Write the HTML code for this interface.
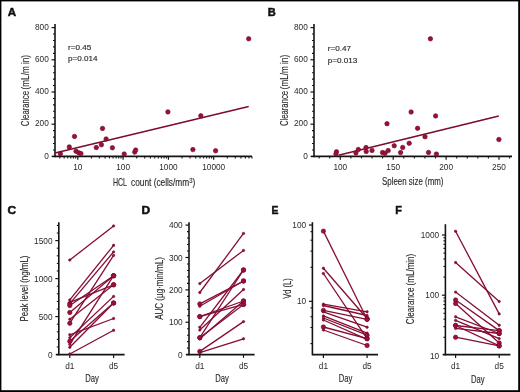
<!DOCTYPE html>
<html><head><meta charset="utf-8"><style>
html,body{margin:0;padding:0;background:#fff;}
#w{position:relative;width:520px;height:392px;overflow:hidden;background:#fff;}
svg{position:absolute;left:0;top:0;will-change:transform;font-family:"Liberation Sans",sans-serif;}
</style></head><body><div id="w">
<svg width="520" height="392" viewBox="0 0 520 392">
<rect x="0" y="0" width="520" height="392" fill="#fff"/>
<text x="7.8" y="15.9" text-anchor="start" font-size="11.2" fill="#111" font-weight="bold" textLength="8.37" lengthAdjust="spacingAndGlyphs" stroke="#111" stroke-width="0.5">A</text>
<line x1="55" y1="24" x2="55" y2="157.15" stroke="#141414" stroke-width="1.6"/>
<line x1="51.5" y1="124.2" x2="55" y2="124.2" stroke="#141414" stroke-width="1.2"/>
<line x1="51.5" y1="92.0" x2="55" y2="92.0" stroke="#141414" stroke-width="1.2"/>
<line x1="51.5" y1="59.8" x2="55" y2="59.8" stroke="#141414" stroke-width="1.2"/>
<line x1="51.5" y1="27.6" x2="55" y2="27.6" stroke="#141414" stroke-width="1.2"/>
<line x1="53" y1="149.96" x2="55" y2="149.96" stroke="#141414" stroke-width="1.1"/>
<line x1="53" y1="143.52" x2="55" y2="143.52" stroke="#141414" stroke-width="1.1"/>
<line x1="53" y1="137.08" x2="55" y2="137.08" stroke="#141414" stroke-width="1.1"/>
<line x1="53" y1="130.64" x2="55" y2="130.64" stroke="#141414" stroke-width="1.1"/>
<line x1="53" y1="117.76" x2="55" y2="117.76" stroke="#141414" stroke-width="1.1"/>
<line x1="53" y1="111.32" x2="55" y2="111.32" stroke="#141414" stroke-width="1.1"/>
<line x1="53" y1="104.88" x2="55" y2="104.88" stroke="#141414" stroke-width="1.1"/>
<line x1="53" y1="98.44" x2="55" y2="98.44" stroke="#141414" stroke-width="1.1"/>
<line x1="53" y1="85.56" x2="55" y2="85.56" stroke="#141414" stroke-width="1.1"/>
<line x1="53" y1="79.12" x2="55" y2="79.12" stroke="#141414" stroke-width="1.1"/>
<line x1="53" y1="72.68" x2="55" y2="72.68" stroke="#141414" stroke-width="1.1"/>
<line x1="53" y1="66.24" x2="55" y2="66.24" stroke="#141414" stroke-width="1.1"/>
<line x1="53" y1="53.36" x2="55" y2="53.36" stroke="#141414" stroke-width="1.1"/>
<line x1="53" y1="46.92" x2="55" y2="46.92" stroke="#141414" stroke-width="1.1"/>
<line x1="53" y1="40.48" x2="55" y2="40.48" stroke="#141414" stroke-width="1.1"/>
<line x1="53" y1="34.04" x2="55" y2="34.04" stroke="#141414" stroke-width="1.1"/>
<text x="48.8" y="158.5" text-anchor="end" font-size="9.9" fill="#2a2a2a" font-weight="normal" textLength="4.6" lengthAdjust="spacingAndGlyphs">0</text>
<text x="48.8" y="126.3" text-anchor="end" font-size="9.9" fill="#2a2a2a" font-weight="normal" textLength="13.79" lengthAdjust="spacingAndGlyphs">200</text>
<text x="48.8" y="94.1" text-anchor="end" font-size="9.9" fill="#2a2a2a" font-weight="normal" textLength="13.79" lengthAdjust="spacingAndGlyphs">400</text>
<text x="48.8" y="61.9" text-anchor="end" font-size="9.9" fill="#2a2a2a" font-weight="normal" textLength="13.79" lengthAdjust="spacingAndGlyphs">600</text>
<text x="48.8" y="29.7" text-anchor="end" font-size="9.9" fill="#2a2a2a" font-weight="normal" textLength="13.79" lengthAdjust="spacingAndGlyphs">800</text>
<line x1="51.7" y1="156.4" x2="55" y2="156.4" stroke="#141414" stroke-width="1.6"/>
<line x1="55" y1="156.4" x2="252" y2="156.4" stroke="#141414" stroke-width="1.6"/>
<line x1="77.8" y1="156.4" x2="77.8" y2="159.7" stroke="#141414" stroke-width="1.2"/>
<line x1="123.1" y1="156.4" x2="123.1" y2="159.7" stroke="#141414" stroke-width="1.2"/>
<line x1="168.4" y1="156.4" x2="168.4" y2="159.7" stroke="#141414" stroke-width="1.2"/>
<line x1="213.7" y1="156.4" x2="213.7" y2="159.7" stroke="#141414" stroke-width="1.2"/>
<line x1="59.77" y1="156.4" x2="59.77" y2="158.4" stroke="#141414" stroke-width="1.1"/>
<line x1="64.16" y1="156.4" x2="64.16" y2="158.4" stroke="#141414" stroke-width="1.1"/>
<line x1="67.75" y1="156.4" x2="67.75" y2="158.4" stroke="#141414" stroke-width="1.1"/>
<line x1="70.78" y1="156.4" x2="70.78" y2="158.4" stroke="#141414" stroke-width="1.1"/>
<line x1="73.41" y1="156.4" x2="73.41" y2="158.4" stroke="#141414" stroke-width="1.1"/>
<line x1="75.73" y1="156.4" x2="75.73" y2="158.4" stroke="#141414" stroke-width="1.1"/>
<line x1="91.44" y1="156.4" x2="91.44" y2="158.4" stroke="#141414" stroke-width="1.1"/>
<line x1="99.41" y1="156.4" x2="99.41" y2="158.4" stroke="#141414" stroke-width="1.1"/>
<line x1="105.07" y1="156.4" x2="105.07" y2="158.4" stroke="#141414" stroke-width="1.1"/>
<line x1="109.46" y1="156.4" x2="109.46" y2="158.4" stroke="#141414" stroke-width="1.1"/>
<line x1="113.05" y1="156.4" x2="113.05" y2="158.4" stroke="#141414" stroke-width="1.1"/>
<line x1="116.08" y1="156.4" x2="116.08" y2="158.4" stroke="#141414" stroke-width="1.1"/>
<line x1="118.71" y1="156.4" x2="118.71" y2="158.4" stroke="#141414" stroke-width="1.1"/>
<line x1="121.03" y1="156.4" x2="121.03" y2="158.4" stroke="#141414" stroke-width="1.1"/>
<line x1="136.74" y1="156.4" x2="136.74" y2="158.4" stroke="#141414" stroke-width="1.1"/>
<line x1="144.71" y1="156.4" x2="144.71" y2="158.4" stroke="#141414" stroke-width="1.1"/>
<line x1="150.37" y1="156.4" x2="150.37" y2="158.4" stroke="#141414" stroke-width="1.1"/>
<line x1="154.76" y1="156.4" x2="154.76" y2="158.4" stroke="#141414" stroke-width="1.1"/>
<line x1="158.35" y1="156.4" x2="158.35" y2="158.4" stroke="#141414" stroke-width="1.1"/>
<line x1="161.38" y1="156.4" x2="161.38" y2="158.4" stroke="#141414" stroke-width="1.1"/>
<line x1="164.01" y1="156.4" x2="164.01" y2="158.4" stroke="#141414" stroke-width="1.1"/>
<line x1="166.33" y1="156.4" x2="166.33" y2="158.4" stroke="#141414" stroke-width="1.1"/>
<line x1="182.04" y1="156.4" x2="182.04" y2="158.4" stroke="#141414" stroke-width="1.1"/>
<line x1="190.01" y1="156.4" x2="190.01" y2="158.4" stroke="#141414" stroke-width="1.1"/>
<line x1="195.67" y1="156.4" x2="195.67" y2="158.4" stroke="#141414" stroke-width="1.1"/>
<line x1="200.06" y1="156.4" x2="200.06" y2="158.4" stroke="#141414" stroke-width="1.1"/>
<line x1="203.65" y1="156.4" x2="203.65" y2="158.4" stroke="#141414" stroke-width="1.1"/>
<line x1="206.68" y1="156.4" x2="206.68" y2="158.4" stroke="#141414" stroke-width="1.1"/>
<line x1="209.31" y1="156.4" x2="209.31" y2="158.4" stroke="#141414" stroke-width="1.1"/>
<line x1="211.63" y1="156.4" x2="211.63" y2="158.4" stroke="#141414" stroke-width="1.1"/>
<line x1="227.34" y1="156.4" x2="227.34" y2="158.4" stroke="#141414" stroke-width="1.1"/>
<line x1="235.31" y1="156.4" x2="235.31" y2="158.4" stroke="#141414" stroke-width="1.1"/>
<line x1="240.97" y1="156.4" x2="240.97" y2="158.4" stroke="#141414" stroke-width="1.1"/>
<line x1="245.36" y1="156.4" x2="245.36" y2="158.4" stroke="#141414" stroke-width="1.1"/>
<line x1="248.95" y1="156.4" x2="248.95" y2="158.4" stroke="#141414" stroke-width="1.1"/>
<line x1="251.98" y1="156.4" x2="251.98" y2="158.4" stroke="#141414" stroke-width="1.1"/>
<text x="77.8" y="169.6" text-anchor="middle" font-size="9.5" fill="#2a2a2a" font-weight="normal" textLength="9.19" lengthAdjust="spacingAndGlyphs">10</text>
<text x="123.1" y="169.6" text-anchor="middle" font-size="9.5" fill="#2a2a2a" font-weight="normal" textLength="13.79" lengthAdjust="spacingAndGlyphs">100</text>
<text x="168.4" y="169.6" text-anchor="middle" font-size="9.5" fill="#2a2a2a" font-weight="normal" textLength="18.38" lengthAdjust="spacingAndGlyphs">1000</text>
<text x="213.7" y="169.6" text-anchor="middle" font-size="9.5" fill="#2a2a2a" font-weight="normal" textLength="22.98" lengthAdjust="spacingAndGlyphs">10000</text>
<text x="112.9" y="186.3" text-anchor="start" font-size="10.4" fill="#2a2a2a" font-weight="normal" textLength="14.0" lengthAdjust="spacingAndGlyphs" stroke="#2a2a2a" stroke-width="0.14">HCL</text>
<text x="131.0" y="186.3" text-anchor="start" font-size="10.4" fill="#2a2a2a" font-weight="normal" stroke="#2a2a2a" stroke-width="0.14" transform="translate(131,0) scale(0.80,1) translate(-131,0)">count (cells/mm<tspan font-size="7.4" dy="-3.2">3</tspan><tspan dy="3.2">)</tspan></text>
<text transform="translate(28.9,126.2) rotate(-90)" text-anchor="start" font-size="10" fill="#2a2a2a" font-weight="normal" textLength="35.2" lengthAdjust="spacingAndGlyphs" stroke="#2a2a2a" stroke-width="0.14">Clearance</text>
<text transform="translate(28.9,89.4) rotate(-90)" text-anchor="start" font-size="10" fill="#2a2a2a" font-weight="normal" textLength="34.4" lengthAdjust="spacingAndGlyphs" stroke="#2a2a2a" stroke-width="0.14">(mL/m in)</text>
<text x="68" y="49.8" text-anchor="start" font-size="7.8" fill="#2a2a2a" font-weight="normal" textLength="23.23" lengthAdjust="spacingAndGlyphs" stroke="#2a2a2a" stroke-width="0.15">r=0.45</text>
<text x="68" y="61.1" text-anchor="start" font-size="7.8" fill="#2a2a2a" font-weight="normal" textLength="29.55" lengthAdjust="spacingAndGlyphs" stroke="#2a2a2a" stroke-width="0.15">p=0.014</text>
<line x1="55" y1="153.0" x2="248.7" y2="106.5" stroke="#7c0b2e" stroke-width="1.55"/>
<circle cx="60.4" cy="153.7" r="2.25" fill="#9a1039" stroke="#730927" stroke-width="0.6"/>
<circle cx="69.3" cy="146.9" r="2.25" fill="#9a1039" stroke="#730927" stroke-width="0.6"/>
<circle cx="74.5" cy="136.4" r="2.25" fill="#9a1039" stroke="#730927" stroke-width="0.6"/>
<circle cx="76" cy="151.3" r="2.25" fill="#9a1039" stroke="#730927" stroke-width="0.6"/>
<circle cx="78.7" cy="152.7" r="2.25" fill="#9a1039" stroke="#730927" stroke-width="0.6"/>
<circle cx="80.9" cy="153.6" r="2.25" fill="#9a1039" stroke="#730927" stroke-width="0.6"/>
<circle cx="96.3" cy="147.6" r="2.25" fill="#9a1039" stroke="#730927" stroke-width="0.6"/>
<circle cx="101.4" cy="144.8" r="2.25" fill="#9a1039" stroke="#730927" stroke-width="0.6"/>
<circle cx="102.5" cy="128.4" r="2.25" fill="#9a1039" stroke="#730927" stroke-width="0.6"/>
<circle cx="106.1" cy="139" r="2.25" fill="#9a1039" stroke="#730927" stroke-width="0.6"/>
<circle cx="112.4" cy="147.8" r="2.25" fill="#9a1039" stroke="#730927" stroke-width="0.6"/>
<circle cx="124.2" cy="154" r="2.25" fill="#9a1039" stroke="#730927" stroke-width="0.6"/>
<circle cx="134.7" cy="152.1" r="2.25" fill="#9a1039" stroke="#730927" stroke-width="0.6"/>
<circle cx="135.7" cy="150.1" r="2.25" fill="#9a1039" stroke="#730927" stroke-width="0.6"/>
<circle cx="167.9" cy="111.9" r="2.25" fill="#9a1039" stroke="#730927" stroke-width="0.6"/>
<circle cx="192.9" cy="149.6" r="2.25" fill="#9a1039" stroke="#730927" stroke-width="0.6"/>
<circle cx="200.8" cy="115.8" r="2.25" fill="#9a1039" stroke="#730927" stroke-width="0.6"/>
<circle cx="215.6" cy="150.8" r="2.25" fill="#9a1039" stroke="#730927" stroke-width="0.6"/>
<circle cx="248.7" cy="38.8" r="2.25" fill="#9a1039" stroke="#730927" stroke-width="0.6"/>
<text x="267.8" y="16.0" text-anchor="start" font-size="11.2" fill="#111" font-weight="bold" textLength="7.99" lengthAdjust="spacingAndGlyphs" stroke="#111" stroke-width="0.5">B</text>
<line x1="314" y1="24" x2="314" y2="157.15" stroke="#141414" stroke-width="1.6"/>
<line x1="310.5" y1="124.2" x2="314" y2="124.2" stroke="#141414" stroke-width="1.2"/>
<line x1="310.5" y1="92.0" x2="314" y2="92.0" stroke="#141414" stroke-width="1.2"/>
<line x1="310.5" y1="59.8" x2="314" y2="59.8" stroke="#141414" stroke-width="1.2"/>
<line x1="310.5" y1="27.6" x2="314" y2="27.6" stroke="#141414" stroke-width="1.2"/>
<line x1="312" y1="149.96" x2="314" y2="149.96" stroke="#141414" stroke-width="1.1"/>
<line x1="312" y1="143.52" x2="314" y2="143.52" stroke="#141414" stroke-width="1.1"/>
<line x1="312" y1="137.08" x2="314" y2="137.08" stroke="#141414" stroke-width="1.1"/>
<line x1="312" y1="130.64" x2="314" y2="130.64" stroke="#141414" stroke-width="1.1"/>
<line x1="312" y1="117.76" x2="314" y2="117.76" stroke="#141414" stroke-width="1.1"/>
<line x1="312" y1="111.32" x2="314" y2="111.32" stroke="#141414" stroke-width="1.1"/>
<line x1="312" y1="104.88" x2="314" y2="104.88" stroke="#141414" stroke-width="1.1"/>
<line x1="312" y1="98.44" x2="314" y2="98.44" stroke="#141414" stroke-width="1.1"/>
<line x1="312" y1="85.56" x2="314" y2="85.56" stroke="#141414" stroke-width="1.1"/>
<line x1="312" y1="79.12" x2="314" y2="79.12" stroke="#141414" stroke-width="1.1"/>
<line x1="312" y1="72.68" x2="314" y2="72.68" stroke="#141414" stroke-width="1.1"/>
<line x1="312" y1="66.24" x2="314" y2="66.24" stroke="#141414" stroke-width="1.1"/>
<line x1="312" y1="53.36" x2="314" y2="53.36" stroke="#141414" stroke-width="1.1"/>
<line x1="312" y1="46.92" x2="314" y2="46.92" stroke="#141414" stroke-width="1.1"/>
<line x1="312" y1="40.48" x2="314" y2="40.48" stroke="#141414" stroke-width="1.1"/>
<line x1="312" y1="34.04" x2="314" y2="34.04" stroke="#141414" stroke-width="1.1"/>
<text x="307.8" y="158.5" text-anchor="end" font-size="9.9" fill="#2a2a2a" font-weight="normal" textLength="4.6" lengthAdjust="spacingAndGlyphs">0</text>
<text x="307.8" y="126.3" text-anchor="end" font-size="9.9" fill="#2a2a2a" font-weight="normal" textLength="13.79" lengthAdjust="spacingAndGlyphs">200</text>
<text x="307.8" y="94.1" text-anchor="end" font-size="9.9" fill="#2a2a2a" font-weight="normal" textLength="13.79" lengthAdjust="spacingAndGlyphs">400</text>
<text x="307.8" y="61.9" text-anchor="end" font-size="9.9" fill="#2a2a2a" font-weight="normal" textLength="13.79" lengthAdjust="spacingAndGlyphs">600</text>
<text x="307.8" y="29.7" text-anchor="end" font-size="9.9" fill="#2a2a2a" font-weight="normal" textLength="13.79" lengthAdjust="spacingAndGlyphs">800</text>
<line x1="310.7" y1="156.4" x2="314" y2="156.4" stroke="#141414" stroke-width="1.6"/>
<line x1="314" y1="156.4" x2="512" y2="156.4" stroke="#141414" stroke-width="1.6"/>
<line x1="340.3" y1="156.4" x2="340.3" y2="159.7" stroke="#141414" stroke-width="1.2"/>
<line x1="393.2" y1="156.4" x2="393.2" y2="159.7" stroke="#141414" stroke-width="1.2"/>
<line x1="446.1" y1="156.4" x2="446.1" y2="159.7" stroke="#141414" stroke-width="1.2"/>
<line x1="499.0" y1="156.4" x2="499.0" y2="159.7" stroke="#141414" stroke-width="1.2"/>
<line x1="319.14" y1="156.4" x2="319.14" y2="158.4" stroke="#141414" stroke-width="1.1"/>
<line x1="329.72" y1="156.4" x2="329.72" y2="158.4" stroke="#141414" stroke-width="1.1"/>
<line x1="350.88" y1="156.4" x2="350.88" y2="158.4" stroke="#141414" stroke-width="1.1"/>
<line x1="361.46" y1="156.4" x2="361.46" y2="158.4" stroke="#141414" stroke-width="1.1"/>
<line x1="372.04" y1="156.4" x2="372.04" y2="158.4" stroke="#141414" stroke-width="1.1"/>
<line x1="382.62" y1="156.4" x2="382.62" y2="158.4" stroke="#141414" stroke-width="1.1"/>
<line x1="403.78" y1="156.4" x2="403.78" y2="158.4" stroke="#141414" stroke-width="1.1"/>
<line x1="414.36" y1="156.4" x2="414.36" y2="158.4" stroke="#141414" stroke-width="1.1"/>
<line x1="424.94" y1="156.4" x2="424.94" y2="158.4" stroke="#141414" stroke-width="1.1"/>
<line x1="435.52" y1="156.4" x2="435.52" y2="158.4" stroke="#141414" stroke-width="1.1"/>
<line x1="456.68" y1="156.4" x2="456.68" y2="158.4" stroke="#141414" stroke-width="1.1"/>
<line x1="467.26" y1="156.4" x2="467.26" y2="158.4" stroke="#141414" stroke-width="1.1"/>
<line x1="477.84" y1="156.4" x2="477.84" y2="158.4" stroke="#141414" stroke-width="1.1"/>
<line x1="488.42" y1="156.4" x2="488.42" y2="158.4" stroke="#141414" stroke-width="1.1"/>
<line x1="509.58" y1="156.4" x2="509.58" y2="158.4" stroke="#141414" stroke-width="1.1"/>
<text x="340.3" y="169.6" text-anchor="middle" font-size="9.5" fill="#2a2a2a" font-weight="normal" textLength="13.79" lengthAdjust="spacingAndGlyphs">100</text>
<text x="393.2" y="169.6" text-anchor="middle" font-size="9.5" fill="#2a2a2a" font-weight="normal" textLength="13.79" lengthAdjust="spacingAndGlyphs">150</text>
<text x="446.1" y="169.6" text-anchor="middle" font-size="9.5" fill="#2a2a2a" font-weight="normal" textLength="13.79" lengthAdjust="spacingAndGlyphs">200</text>
<text x="499.0" y="169.6" text-anchor="middle" font-size="9.5" fill="#2a2a2a" font-weight="normal" textLength="13.79" lengthAdjust="spacingAndGlyphs">250</text>
<text x="382" y="184.7" text-anchor="start" font-size="10" fill="#2a2a2a" font-weight="normal" textLength="61.5" lengthAdjust="spacingAndGlyphs" stroke="#2a2a2a" stroke-width="0.14">Spleen size (mm)</text>
<text transform="translate(288.3,126.1) rotate(-90)" text-anchor="start" font-size="10" fill="#2a2a2a" font-weight="normal" textLength="35.2" lengthAdjust="spacingAndGlyphs" stroke="#2a2a2a" stroke-width="0.14">Clearance</text>
<text transform="translate(288.3,89.3) rotate(-90)" text-anchor="start" font-size="10" fill="#2a2a2a" font-weight="normal" textLength="34.4" lengthAdjust="spacingAndGlyphs" stroke="#2a2a2a" stroke-width="0.14">(mL/m in)</text>
<text x="327.7" y="51.1" text-anchor="start" font-size="7.8" fill="#2a2a2a" font-weight="normal" textLength="23.23" lengthAdjust="spacingAndGlyphs" stroke="#2a2a2a" stroke-width="0.15">r=0.47</text>
<text x="327.7" y="62.9" text-anchor="start" font-size="7.8" fill="#2a2a2a" font-weight="normal" textLength="29.55" lengthAdjust="spacingAndGlyphs" stroke="#2a2a2a" stroke-width="0.15">p=0.013</text>
<line x1="338.5" y1="155.2" x2="498.8" y2="116" stroke="#7c0b2e" stroke-width="1.55"/>
<circle cx="336.5" cy="151.8" r="2.25" fill="#9a1039" stroke="#730927" stroke-width="0.6"/>
<circle cx="335.9" cy="153.9" r="2.25" fill="#9a1039" stroke="#730927" stroke-width="0.6"/>
<circle cx="355.9" cy="152.9" r="2.25" fill="#9a1039" stroke="#730927" stroke-width="0.6"/>
<circle cx="358.3" cy="149.5" r="2.25" fill="#9a1039" stroke="#730927" stroke-width="0.6"/>
<circle cx="366" cy="147.6" r="2.25" fill="#9a1039" stroke="#730927" stroke-width="0.6"/>
<circle cx="366.2" cy="151.5" r="2.25" fill="#9a1039" stroke="#730927" stroke-width="0.6"/>
<circle cx="372" cy="150.4" r="2.25" fill="#9a1039" stroke="#730927" stroke-width="0.6"/>
<circle cx="382.5" cy="152.6" r="2.25" fill="#9a1039" stroke="#730927" stroke-width="0.6"/>
<circle cx="385" cy="153.2" r="2.25" fill="#9a1039" stroke="#730927" stroke-width="0.6"/>
<circle cx="388.2" cy="150.6" r="2.25" fill="#9a1039" stroke="#730927" stroke-width="0.6"/>
<circle cx="394.2" cy="145.8" r="2.25" fill="#9a1039" stroke="#730927" stroke-width="0.6"/>
<circle cx="400.6" cy="152.6" r="2.25" fill="#9a1039" stroke="#730927" stroke-width="0.6"/>
<circle cx="402.7" cy="147.4" r="2.25" fill="#9a1039" stroke="#730927" stroke-width="0.6"/>
<circle cx="409.2" cy="143.3" r="2.25" fill="#9a1039" stroke="#730927" stroke-width="0.6"/>
<circle cx="387" cy="123.7" r="2.25" fill="#9a1039" stroke="#730927" stroke-width="0.6"/>
<circle cx="411.1" cy="112" r="2.25" fill="#9a1039" stroke="#730927" stroke-width="0.6"/>
<circle cx="417.6" cy="128.3" r="2.25" fill="#9a1039" stroke="#730927" stroke-width="0.6"/>
<circle cx="425" cy="136.8" r="2.25" fill="#9a1039" stroke="#730927" stroke-width="0.6"/>
<circle cx="428.5" cy="152.4" r="2.25" fill="#9a1039" stroke="#730927" stroke-width="0.6"/>
<circle cx="435.6" cy="115.9" r="2.25" fill="#9a1039" stroke="#730927" stroke-width="0.6"/>
<circle cx="436.4" cy="154.1" r="2.25" fill="#9a1039" stroke="#730927" stroke-width="0.6"/>
<circle cx="430.4" cy="38.8" r="2.25" fill="#9a1039" stroke="#730927" stroke-width="0.6"/>
<circle cx="498.9" cy="139.5" r="2.25" fill="#9a1039" stroke="#730927" stroke-width="0.6"/>
<text x="7.6" y="214.3" text-anchor="start" font-size="11.2" fill="#111" font-weight="bold" textLength="8.65" lengthAdjust="spacingAndGlyphs" stroke="#111" stroke-width="0.5">C</text>
<line x1="58.8" y1="222.2" x2="58.8" y2="355.35" stroke="#141414" stroke-width="1.6"/>
<line x1="55.3" y1="316.6" x2="58.8" y2="316.6" stroke="#141414" stroke-width="1.2"/>
<line x1="55.3" y1="278.6" x2="58.8" y2="278.6" stroke="#141414" stroke-width="1.2"/>
<line x1="55.3" y1="240.6" x2="58.8" y2="240.6" stroke="#141414" stroke-width="1.2"/>
<line x1="56.8" y1="347.0" x2="58.8" y2="347.0" stroke="#141414" stroke-width="1.1"/>
<line x1="56.8" y1="339.4" x2="58.8" y2="339.4" stroke="#141414" stroke-width="1.1"/>
<line x1="56.8" y1="331.8" x2="58.8" y2="331.8" stroke="#141414" stroke-width="1.1"/>
<line x1="56.8" y1="324.2" x2="58.8" y2="324.2" stroke="#141414" stroke-width="1.1"/>
<line x1="56.8" y1="309.0" x2="58.8" y2="309.0" stroke="#141414" stroke-width="1.1"/>
<line x1="56.8" y1="301.4" x2="58.8" y2="301.4" stroke="#141414" stroke-width="1.1"/>
<line x1="56.8" y1="293.8" x2="58.8" y2="293.8" stroke="#141414" stroke-width="1.1"/>
<line x1="56.8" y1="286.2" x2="58.8" y2="286.2" stroke="#141414" stroke-width="1.1"/>
<line x1="56.8" y1="271.0" x2="58.8" y2="271.0" stroke="#141414" stroke-width="1.1"/>
<line x1="56.8" y1="263.4" x2="58.8" y2="263.4" stroke="#141414" stroke-width="1.1"/>
<line x1="56.8" y1="255.8" x2="58.8" y2="255.8" stroke="#141414" stroke-width="1.1"/>
<line x1="56.8" y1="248.2" x2="58.8" y2="248.2" stroke="#141414" stroke-width="1.1"/>
<line x1="56.8" y1="233.0" x2="58.8" y2="233.0" stroke="#141414" stroke-width="1.1"/>
<line x1="56.8" y1="225.4" x2="58.8" y2="225.4" stroke="#141414" stroke-width="1.1"/>
<text x="52.5" y="357.7" text-anchor="end" font-size="9.9" fill="#2a2a2a" font-weight="normal" textLength="4.6" lengthAdjust="spacingAndGlyphs">0</text>
<text x="52.5" y="319.7" text-anchor="end" font-size="9.9" fill="#2a2a2a" font-weight="normal" textLength="13.79" lengthAdjust="spacingAndGlyphs">500</text>
<text x="52.5" y="281.7" text-anchor="end" font-size="9.9" fill="#2a2a2a" font-weight="normal" textLength="18.39" lengthAdjust="spacingAndGlyphs">1000</text>
<text x="52.5" y="243.7" text-anchor="end" font-size="9.9" fill="#2a2a2a" font-weight="normal" textLength="18.39" lengthAdjust="spacingAndGlyphs">1500</text>
<line x1="55.8" y1="354.6" x2="124.6" y2="354.6" stroke="#141414" stroke-width="1.6"/>
<line x1="69.8" y1="354.6" x2="69.8" y2="357.9" stroke="#141414" stroke-width="1.2"/>
<line x1="113.6" y1="354.6" x2="113.6" y2="357.9" stroke="#141414" stroke-width="1.2"/>
<text x="69.8" y="368.9" text-anchor="middle" font-size="9.5" fill="#2a2a2a" font-weight="normal" textLength="9.19" lengthAdjust="spacingAndGlyphs">d1</text>
<text x="113.6" y="368.9" text-anchor="middle" font-size="9.5" fill="#2a2a2a" font-weight="normal" textLength="9.19" lengthAdjust="spacingAndGlyphs">d5</text>
<text x="92.1" y="381.9" text-anchor="middle" font-size="10" fill="#2a2a2a" font-weight="normal" textLength="13.6" lengthAdjust="spacingAndGlyphs" stroke="#2a2a2a" stroke-width="0.14">Day</text>
<text transform="translate(28,288.5) rotate(-90)" text-anchor="middle" font-size="10" fill="#2a2a2a" font-weight="normal" textLength="66" lengthAdjust="spacingAndGlyphs" stroke="#2a2a2a" stroke-width="0.14">Peak level (ng/mL)</text>
<line x1="69.8" y1="260.0" x2="113.6" y2="225.9" stroke="#850d33" stroke-width="1.3"/>
<line x1="69.8" y1="299.9" x2="113.6" y2="245.3" stroke="#850d33" stroke-width="1.3"/>
<line x1="69.8" y1="303.7" x2="113.6" y2="251.9" stroke="#850d33" stroke-width="1.3"/>
<line x1="69.8" y1="323.2" x2="113.6" y2="255.4" stroke="#850d33" stroke-width="1.3"/>
<line x1="69.8" y1="305.5" x2="113.6" y2="275.7" stroke="#850d33" stroke-width="1.3"/>
<line x1="69.8" y1="312.5" x2="113.6" y2="275.7" stroke="#850d33" stroke-width="1.3"/>
<line x1="69.8" y1="344.4" x2="113.6" y2="275.7" stroke="#850d33" stroke-width="1.3"/>
<line x1="69.8" y1="319.2" x2="113.6" y2="284.8" stroke="#850d33" stroke-width="1.3"/>
<line x1="69.8" y1="302.4" x2="113.6" y2="284.8" stroke="#850d33" stroke-width="1.3"/>
<line x1="69.8" y1="337.7" x2="113.6" y2="296.4" stroke="#850d33" stroke-width="1.3"/>
<line x1="69.8" y1="341.3" x2="113.6" y2="303" stroke="#850d33" stroke-width="1.3"/>
<line x1="69.8" y1="334.8" x2="113.6" y2="318.5" stroke="#850d33" stroke-width="1.3"/>
<line x1="69.8" y1="354" x2="113.6" y2="330.3" stroke="#850d33" stroke-width="1.3"/>
<line x1="69.8" y1="347.3" x2="113.6" y2="303" stroke="#850d33" stroke-width="1.3"/>
<circle cx="69.8" cy="260.0" r="1.2" fill="#9a1039" stroke="#730927" stroke-width="0.6"/>
<circle cx="113.6" cy="225.9" r="1.2" fill="#9a1039" stroke="#730927" stroke-width="0.6"/>
<circle cx="69.8" cy="299.9" r="1.2" fill="#9a1039" stroke="#730927" stroke-width="0.6"/>
<circle cx="113.6" cy="245.3" r="1.2" fill="#9a1039" stroke="#730927" stroke-width="0.6"/>
<circle cx="69.8" cy="303.7" r="2.2" fill="#9a1039" stroke="#730927" stroke-width="0.6"/>
<circle cx="113.6" cy="251.9" r="1.2" fill="#9a1039" stroke="#730927" stroke-width="0.6"/>
<circle cx="69.8" cy="323.2" r="2.2" fill="#9a1039" stroke="#730927" stroke-width="0.6"/>
<circle cx="113.6" cy="255.4" r="1.2" fill="#9a1039" stroke="#730927" stroke-width="0.6"/>
<circle cx="69.8" cy="305.5" r="2.2" fill="#9a1039" stroke="#730927" stroke-width="0.6"/>
<circle cx="113.6" cy="275.7" r="2.2" fill="#9a1039" stroke="#730927" stroke-width="0.6"/>
<circle cx="69.8" cy="312.5" r="2.2" fill="#9a1039" stroke="#730927" stroke-width="0.6"/>
<circle cx="113.6" cy="275.7" r="2.2" fill="#9a1039" stroke="#730927" stroke-width="0.6"/>
<circle cx="69.8" cy="344.4" r="1.2" fill="#9a1039" stroke="#730927" stroke-width="0.6"/>
<circle cx="113.6" cy="275.7" r="2.2" fill="#9a1039" stroke="#730927" stroke-width="0.6"/>
<circle cx="69.8" cy="319.2" r="1.2" fill="#9a1039" stroke="#730927" stroke-width="0.6"/>
<circle cx="113.6" cy="284.8" r="2.2" fill="#9a1039" stroke="#730927" stroke-width="0.6"/>
<circle cx="69.8" cy="302.4" r="1.2" fill="#9a1039" stroke="#730927" stroke-width="0.6"/>
<circle cx="113.6" cy="284.8" r="2.2" fill="#9a1039" stroke="#730927" stroke-width="0.6"/>
<circle cx="69.8" cy="337.7" r="1.2" fill="#9a1039" stroke="#730927" stroke-width="0.6"/>
<circle cx="113.6" cy="296.4" r="1.2" fill="#9a1039" stroke="#730927" stroke-width="0.6"/>
<circle cx="69.8" cy="341.3" r="2.2" fill="#9a1039" stroke="#730927" stroke-width="0.6"/>
<circle cx="113.6" cy="303" r="2.2" fill="#9a1039" stroke="#730927" stroke-width="0.6"/>
<circle cx="69.8" cy="334.8" r="1.2" fill="#9a1039" stroke="#730927" stroke-width="0.6"/>
<circle cx="113.6" cy="318.5" r="1.2" fill="#9a1039" stroke="#730927" stroke-width="0.6"/>
<circle cx="69.8" cy="354" r="1.2" fill="#9a1039" stroke="#730927" stroke-width="0.6"/>
<circle cx="113.6" cy="330.3" r="1.2" fill="#9a1039" stroke="#730927" stroke-width="0.6"/>
<circle cx="69.8" cy="347.3" r="1.2" fill="#9a1039" stroke="#730927" stroke-width="0.6"/>
<circle cx="113.6" cy="303" r="2.2" fill="#9a1039" stroke="#730927" stroke-width="0.6"/>
<text x="141.4" y="214.3" text-anchor="start" font-size="11.2" fill="#111" font-weight="bold" textLength="8.65" lengthAdjust="spacingAndGlyphs" stroke="#111" stroke-width="0.5">D</text>
<line x1="189" y1="222.2" x2="189" y2="355.35" stroke="#141414" stroke-width="1.6"/>
<line x1="185.5" y1="322.23" x2="189" y2="322.23" stroke="#141414" stroke-width="1.2"/>
<line x1="185.5" y1="289.86" x2="189" y2="289.86" stroke="#141414" stroke-width="1.2"/>
<line x1="185.5" y1="257.49" x2="189" y2="257.49" stroke="#141414" stroke-width="1.2"/>
<line x1="185.5" y1="225.12" x2="189" y2="225.12" stroke="#141414" stroke-width="1.2"/>
<line x1="187" y1="348.13" x2="189" y2="348.13" stroke="#141414" stroke-width="1.1"/>
<line x1="187" y1="341.65" x2="189" y2="341.65" stroke="#141414" stroke-width="1.1"/>
<line x1="187" y1="335.18" x2="189" y2="335.18" stroke="#141414" stroke-width="1.1"/>
<line x1="187" y1="328.7" x2="189" y2="328.7" stroke="#141414" stroke-width="1.1"/>
<line x1="187" y1="315.76" x2="189" y2="315.76" stroke="#141414" stroke-width="1.1"/>
<line x1="187" y1="309.28" x2="189" y2="309.28" stroke="#141414" stroke-width="1.1"/>
<line x1="187" y1="302.81" x2="189" y2="302.81" stroke="#141414" stroke-width="1.1"/>
<line x1="187" y1="296.33" x2="189" y2="296.33" stroke="#141414" stroke-width="1.1"/>
<line x1="187" y1="283.39" x2="189" y2="283.39" stroke="#141414" stroke-width="1.1"/>
<line x1="187" y1="276.91" x2="189" y2="276.91" stroke="#141414" stroke-width="1.1"/>
<line x1="187" y1="270.44" x2="189" y2="270.44" stroke="#141414" stroke-width="1.1"/>
<line x1="187" y1="263.96" x2="189" y2="263.96" stroke="#141414" stroke-width="1.1"/>
<line x1="187" y1="251.02" x2="189" y2="251.02" stroke="#141414" stroke-width="1.1"/>
<line x1="187" y1="244.54" x2="189" y2="244.54" stroke="#141414" stroke-width="1.1"/>
<line x1="187" y1="238.07" x2="189" y2="238.07" stroke="#141414" stroke-width="1.1"/>
<line x1="187" y1="231.59" x2="189" y2="231.59" stroke="#141414" stroke-width="1.1"/>
<text x="182.7" y="357.7" text-anchor="end" font-size="9.9" fill="#2a2a2a" font-weight="normal" textLength="4.6" lengthAdjust="spacingAndGlyphs">0</text>
<text x="182.7" y="325.33" text-anchor="end" font-size="9.9" fill="#2a2a2a" font-weight="normal" textLength="13.79" lengthAdjust="spacingAndGlyphs">100</text>
<text x="182.7" y="292.96" text-anchor="end" font-size="9.9" fill="#2a2a2a" font-weight="normal" textLength="13.79" lengthAdjust="spacingAndGlyphs">200</text>
<text x="182.7" y="260.59" text-anchor="end" font-size="9.9" fill="#2a2a2a" font-weight="normal" textLength="13.79" lengthAdjust="spacingAndGlyphs">300</text>
<text x="182.7" y="228.22" text-anchor="end" font-size="9.9" fill="#2a2a2a" font-weight="normal" textLength="13.79" lengthAdjust="spacingAndGlyphs">400</text>
<line x1="185.9" y1="354.6" x2="254.6" y2="354.6" stroke="#141414" stroke-width="1.6"/>
<line x1="199.8" y1="354.6" x2="199.8" y2="357.9" stroke="#141414" stroke-width="1.2"/>
<line x1="243.5" y1="354.6" x2="243.5" y2="357.9" stroke="#141414" stroke-width="1.2"/>
<text x="199.8" y="368.9" text-anchor="middle" font-size="9.5" fill="#2a2a2a" font-weight="normal" textLength="9.19" lengthAdjust="spacingAndGlyphs">d1</text>
<text x="243.5" y="368.9" text-anchor="middle" font-size="9.5" fill="#2a2a2a" font-weight="normal" textLength="9.19" lengthAdjust="spacingAndGlyphs">d5</text>
<text x="222.05" y="381.9" text-anchor="middle" font-size="10" fill="#2a2a2a" font-weight="normal" textLength="13.6" lengthAdjust="spacingAndGlyphs" stroke="#2a2a2a" stroke-width="0.14">Day</text>
<text transform="translate(163.1,288.5) rotate(-90)" text-anchor="middle" font-size="10" fill="#2a2a2a" font-weight="normal" textLength="62.7" lengthAdjust="spacingAndGlyphs" stroke="#2a2a2a" stroke-width="0.14">AUC (µg·min/mL)</text>
<line x1="199.8" y1="283.6" x2="243.5" y2="250.4" stroke="#850d33" stroke-width="1.3"/>
<line x1="199.8" y1="292.5" x2="243.5" y2="233.4" stroke="#850d33" stroke-width="1.3"/>
<line x1="199.8" y1="303.9" x2="243.5" y2="281" stroke="#850d33" stroke-width="1.3"/>
<line x1="199.8" y1="306.2" x2="243.5" y2="281" stroke="#850d33" stroke-width="1.3"/>
<line x1="199.8" y1="316.6" x2="243.5" y2="301" stroke="#850d33" stroke-width="1.3"/>
<line x1="199.8" y1="316.6" x2="243.5" y2="304.4" stroke="#850d33" stroke-width="1.3"/>
<line x1="199.8" y1="327.3" x2="243.5" y2="270" stroke="#850d33" stroke-width="1.3"/>
<line x1="199.8" y1="330.1" x2="243.5" y2="289.5" stroke="#850d33" stroke-width="1.3"/>
<line x1="199.8" y1="337.7" x2="243.5" y2="304.4" stroke="#850d33" stroke-width="1.3"/>
<line x1="199.8" y1="338.8" x2="243.5" y2="301" stroke="#850d33" stroke-width="1.3"/>
<line x1="199.8" y1="351.4" x2="243.5" y2="321.6" stroke="#850d33" stroke-width="1.3"/>
<line x1="199.8" y1="352.6" x2="243.5" y2="338.8" stroke="#850d33" stroke-width="1.3"/>
<line x1="199.8" y1="337.7" x2="243.5" y2="270" stroke="#850d33" stroke-width="1.3"/>
<circle cx="199.8" cy="283.6" r="1.2" fill="#9a1039" stroke="#730927" stroke-width="0.6"/>
<circle cx="243.5" cy="250.4" r="1.2" fill="#9a1039" stroke="#730927" stroke-width="0.6"/>
<circle cx="199.8" cy="292.5" r="1.2" fill="#9a1039" stroke="#730927" stroke-width="0.6"/>
<circle cx="243.5" cy="233.4" r="1.2" fill="#9a1039" stroke="#730927" stroke-width="0.6"/>
<circle cx="199.8" cy="303.9" r="2.2" fill="#9a1039" stroke="#730927" stroke-width="0.6"/>
<circle cx="243.5" cy="281" r="2.2" fill="#9a1039" stroke="#730927" stroke-width="0.6"/>
<circle cx="199.8" cy="306.2" r="1.2" fill="#9a1039" stroke="#730927" stroke-width="0.6"/>
<circle cx="243.5" cy="281" r="2.2" fill="#9a1039" stroke="#730927" stroke-width="0.6"/>
<circle cx="199.8" cy="316.6" r="2.2" fill="#9a1039" stroke="#730927" stroke-width="0.6"/>
<circle cx="243.5" cy="301" r="2.2" fill="#9a1039" stroke="#730927" stroke-width="0.6"/>
<circle cx="199.8" cy="316.6" r="2.2" fill="#9a1039" stroke="#730927" stroke-width="0.6"/>
<circle cx="243.5" cy="304.4" r="2.2" fill="#9a1039" stroke="#730927" stroke-width="0.6"/>
<circle cx="199.8" cy="327.3" r="1.2" fill="#9a1039" stroke="#730927" stroke-width="0.6"/>
<circle cx="243.5" cy="270" r="2.2" fill="#9a1039" stroke="#730927" stroke-width="0.6"/>
<circle cx="199.8" cy="330.1" r="1.2" fill="#9a1039" stroke="#730927" stroke-width="0.6"/>
<circle cx="243.5" cy="289.5" r="1.2" fill="#9a1039" stroke="#730927" stroke-width="0.6"/>
<circle cx="199.8" cy="337.7" r="2.2" fill="#9a1039" stroke="#730927" stroke-width="0.6"/>
<circle cx="243.5" cy="304.4" r="2.2" fill="#9a1039" stroke="#730927" stroke-width="0.6"/>
<circle cx="199.8" cy="338.8" r="1.2" fill="#9a1039" stroke="#730927" stroke-width="0.6"/>
<circle cx="243.5" cy="301" r="2.2" fill="#9a1039" stroke="#730927" stroke-width="0.6"/>
<circle cx="199.8" cy="351.4" r="2.2" fill="#9a1039" stroke="#730927" stroke-width="0.6"/>
<circle cx="243.5" cy="321.6" r="1.2" fill="#9a1039" stroke="#730927" stroke-width="0.6"/>
<circle cx="199.8" cy="352.6" r="1.2" fill="#9a1039" stroke="#730927" stroke-width="0.6"/>
<circle cx="243.5" cy="338.8" r="1.2" fill="#9a1039" stroke="#730927" stroke-width="0.6"/>
<circle cx="199.8" cy="337.7" r="2.2" fill="#9a1039" stroke="#730927" stroke-width="0.6"/>
<circle cx="243.5" cy="270" r="2.2" fill="#9a1039" stroke="#730927" stroke-width="0.6"/>
<text x="271.4" y="214.3" text-anchor="start" font-size="11.2" fill="#111" font-weight="bold" textLength="6.95" lengthAdjust="spacingAndGlyphs" stroke="#111" stroke-width="0.5">E</text>
<line x1="312.4" y1="222.2" x2="312.4" y2="355.35" stroke="#141414" stroke-width="1.6"/>
<line x1="308.9" y1="225.0" x2="312.4" y2="225.0" stroke="#141414" stroke-width="1.2"/>
<line x1="308.9" y1="301.3" x2="312.4" y2="301.3" stroke="#141414" stroke-width="1.2"/>
<line x1="310.4" y1="231.7" x2="312.4" y2="231.7" stroke="#141414" stroke-width="1.1"/>
<line x1="310.4" y1="240.2" x2="312.4" y2="240.2" stroke="#141414" stroke-width="1.1"/>
<line x1="310.4" y1="251.1" x2="312.4" y2="251.1" stroke="#141414" stroke-width="1.1"/>
<line x1="310.4" y1="267.3" x2="312.4" y2="267.3" stroke="#141414" stroke-width="1.1"/>
<line x1="310.4" y1="307.9" x2="312.4" y2="307.9" stroke="#141414" stroke-width="1.1"/>
<line x1="310.4" y1="316.8" x2="312.4" y2="316.8" stroke="#141414" stroke-width="1.1"/>
<line x1="310.4" y1="327.5" x2="312.4" y2="327.5" stroke="#141414" stroke-width="1.1"/>
<line x1="310.4" y1="343.6" x2="312.4" y2="343.6" stroke="#141414" stroke-width="1.1"/>
<text x="306.1" y="228.1" text-anchor="end" font-size="9.9" fill="#2a2a2a" font-weight="normal" textLength="13.79" lengthAdjust="spacingAndGlyphs">100</text>
<text x="306.1" y="304.4" text-anchor="end" font-size="9.9" fill="#2a2a2a" font-weight="normal" textLength="9.19" lengthAdjust="spacingAndGlyphs">10</text>
<line x1="312.4" y1="354.6" x2="378" y2="354.6" stroke="#141414" stroke-width="1.6"/>
<line x1="323.4" y1="354.6" x2="323.4" y2="357.9" stroke="#141414" stroke-width="1.2"/>
<line x1="367.1" y1="354.6" x2="367.1" y2="357.9" stroke="#141414" stroke-width="1.2"/>
<text x="323.4" y="368.9" text-anchor="middle" font-size="9.5" fill="#2a2a2a" font-weight="normal" textLength="9.19" lengthAdjust="spacingAndGlyphs">d1</text>
<text x="367.1" y="368.9" text-anchor="middle" font-size="9.5" fill="#2a2a2a" font-weight="normal" textLength="9.19" lengthAdjust="spacingAndGlyphs">d5</text>
<text x="345.65" y="381.9" text-anchor="middle" font-size="10" fill="#2a2a2a" font-weight="normal" textLength="13.6" lengthAdjust="spacingAndGlyphs" stroke="#2a2a2a" stroke-width="0.14">Day</text>
<text transform="translate(291,288.5) rotate(-90)" text-anchor="middle" font-size="10" fill="#2a2a2a" font-weight="normal" textLength="20.7" lengthAdjust="spacingAndGlyphs" stroke="#2a2a2a" stroke-width="0.14">Vd (L)</text>
<line x1="323.4" y1="231.1" x2="367.1" y2="319.3" stroke="#850d33" stroke-width="1.3"/>
<line x1="323.4" y1="268.2" x2="367.1" y2="318.5" stroke="#850d33" stroke-width="1.3"/>
<line x1="323.4" y1="273.5" x2="367.1" y2="338.7" stroke="#850d33" stroke-width="1.3"/>
<line x1="323.4" y1="304.2" x2="367.1" y2="311.8" stroke="#850d33" stroke-width="1.3"/>
<line x1="323.4" y1="305.5" x2="367.1" y2="315.5" stroke="#850d33" stroke-width="1.3"/>
<line x1="323.4" y1="310.4" x2="367.1" y2="319.3" stroke="#850d33" stroke-width="1.3"/>
<line x1="323.4" y1="311.8" x2="367.1" y2="327.2" stroke="#850d33" stroke-width="1.3"/>
<line x1="323.4" y1="315.9" x2="367.1" y2="333.1" stroke="#850d33" stroke-width="1.3"/>
<line x1="323.4" y1="318" x2="367.1" y2="335.2" stroke="#850d33" stroke-width="1.3"/>
<line x1="323.4" y1="320" x2="367.1" y2="339.3" stroke="#850d33" stroke-width="1.3"/>
<line x1="323.4" y1="327" x2="367.1" y2="338.7" stroke="#850d33" stroke-width="1.3"/>
<line x1="323.4" y1="330" x2="367.1" y2="345.5" stroke="#850d33" stroke-width="1.3"/>
<circle cx="323.4" cy="231.1" r="2.2" fill="#9a1039" stroke="#730927" stroke-width="0.6"/>
<circle cx="367.1" cy="319.3" r="2.2" fill="#9a1039" stroke="#730927" stroke-width="0.6"/>
<circle cx="323.4" cy="268.2" r="1.2" fill="#9a1039" stroke="#730927" stroke-width="0.6"/>
<circle cx="367.1" cy="318.5" r="2.2" fill="#9a1039" stroke="#730927" stroke-width="0.6"/>
<circle cx="323.4" cy="273.5" r="1.2" fill="#9a1039" stroke="#730927" stroke-width="0.6"/>
<circle cx="367.1" cy="338.7" r="2.2" fill="#9a1039" stroke="#730927" stroke-width="0.6"/>
<circle cx="323.4" cy="304.2" r="1.2" fill="#9a1039" stroke="#730927" stroke-width="0.6"/>
<circle cx="367.1" cy="311.8" r="1.2" fill="#9a1039" stroke="#730927" stroke-width="0.6"/>
<circle cx="323.4" cy="305.5" r="1.2" fill="#9a1039" stroke="#730927" stroke-width="0.6"/>
<circle cx="367.1" cy="315.5" r="1.2" fill="#9a1039" stroke="#730927" stroke-width="0.6"/>
<circle cx="323.4" cy="310.4" r="2.2" fill="#9a1039" stroke="#730927" stroke-width="0.6"/>
<circle cx="367.1" cy="319.3" r="2.2" fill="#9a1039" stroke="#730927" stroke-width="0.6"/>
<circle cx="323.4" cy="311.8" r="1.2" fill="#9a1039" stroke="#730927" stroke-width="0.6"/>
<circle cx="367.1" cy="327.2" r="1.2" fill="#9a1039" stroke="#730927" stroke-width="0.6"/>
<circle cx="323.4" cy="315.9" r="1.2" fill="#9a1039" stroke="#730927" stroke-width="0.6"/>
<circle cx="367.1" cy="333.1" r="1.2" fill="#9a1039" stroke="#730927" stroke-width="0.6"/>
<circle cx="323.4" cy="318" r="1.2" fill="#9a1039" stroke="#730927" stroke-width="0.6"/>
<circle cx="367.1" cy="335.2" r="2.2" fill="#9a1039" stroke="#730927" stroke-width="0.6"/>
<circle cx="323.4" cy="320" r="1.2" fill="#9a1039" stroke="#730927" stroke-width="0.6"/>
<circle cx="367.1" cy="339.3" r="1.2" fill="#9a1039" stroke="#730927" stroke-width="0.6"/>
<circle cx="323.4" cy="327" r="2.2" fill="#9a1039" stroke="#730927" stroke-width="0.6"/>
<circle cx="367.1" cy="338.7" r="2.2" fill="#9a1039" stroke="#730927" stroke-width="0.6"/>
<circle cx="323.4" cy="330" r="1.2" fill="#9a1039" stroke="#730927" stroke-width="0.6"/>
<circle cx="367.1" cy="345.5" r="2.2" fill="#9a1039" stroke="#730927" stroke-width="0.6"/>
<text x="395.2" y="214.3" text-anchor="start" font-size="11.2" fill="#111" font-weight="bold" textLength="6.7" lengthAdjust="spacingAndGlyphs" stroke="#111" stroke-width="0.5">F</text>
<line x1="445.4" y1="224.2" x2="445.4" y2="355.35" stroke="#141414" stroke-width="1.6"/>
<line x1="441.9" y1="295.2" x2="445.4" y2="295.2" stroke="#141414" stroke-width="1.2"/>
<line x1="441.9" y1="235.0" x2="445.4" y2="235.0" stroke="#141414" stroke-width="1.2"/>
<line x1="443.4" y1="337.28" x2="445.4" y2="337.28" stroke="#141414" stroke-width="1.1"/>
<line x1="443.4" y1="326.68" x2="445.4" y2="326.68" stroke="#141414" stroke-width="1.1"/>
<line x1="443.4" y1="319.16" x2="445.4" y2="319.16" stroke="#141414" stroke-width="1.1"/>
<line x1="443.4" y1="313.32" x2="445.4" y2="313.32" stroke="#141414" stroke-width="1.1"/>
<line x1="443.4" y1="308.56" x2="445.4" y2="308.56" stroke="#141414" stroke-width="1.1"/>
<line x1="443.4" y1="304.53" x2="445.4" y2="304.53" stroke="#141414" stroke-width="1.1"/>
<line x1="443.4" y1="301.03" x2="445.4" y2="301.03" stroke="#141414" stroke-width="1.1"/>
<line x1="443.4" y1="297.95" x2="445.4" y2="297.95" stroke="#141414" stroke-width="1.1"/>
<line x1="443.4" y1="277.08" x2="445.4" y2="277.08" stroke="#141414" stroke-width="1.1"/>
<line x1="443.4" y1="266.48" x2="445.4" y2="266.48" stroke="#141414" stroke-width="1.1"/>
<line x1="443.4" y1="258.96" x2="445.4" y2="258.96" stroke="#141414" stroke-width="1.1"/>
<line x1="443.4" y1="253.12" x2="445.4" y2="253.12" stroke="#141414" stroke-width="1.1"/>
<line x1="443.4" y1="248.36" x2="445.4" y2="248.36" stroke="#141414" stroke-width="1.1"/>
<line x1="443.4" y1="244.33" x2="445.4" y2="244.33" stroke="#141414" stroke-width="1.1"/>
<line x1="443.4" y1="240.83" x2="445.4" y2="240.83" stroke="#141414" stroke-width="1.1"/>
<line x1="443.4" y1="237.75" x2="445.4" y2="237.75" stroke="#141414" stroke-width="1.1"/>
<text x="439.1" y="358.5" text-anchor="end" font-size="9.9" fill="#2a2a2a" font-weight="normal" textLength="9.19" lengthAdjust="spacingAndGlyphs">10</text>
<text x="439.1" y="298.3" text-anchor="end" font-size="9.9" fill="#2a2a2a" font-weight="normal" textLength="13.79" lengthAdjust="spacingAndGlyphs">100</text>
<text x="439.1" y="238.1" text-anchor="end" font-size="9.9" fill="#2a2a2a" font-weight="normal" textLength="18.39" lengthAdjust="spacingAndGlyphs">1000</text>
<line x1="442.7" y1="354.6" x2="510.4" y2="354.6" stroke="#141414" stroke-width="1.6"/>
<line x1="455.6" y1="354.6" x2="455.6" y2="357.9" stroke="#141414" stroke-width="1.2"/>
<line x1="499.2" y1="354.6" x2="499.2" y2="357.9" stroke="#141414" stroke-width="1.2"/>
<text x="455.6" y="368.9" text-anchor="middle" font-size="9.5" fill="#2a2a2a" font-weight="normal" textLength="9.19" lengthAdjust="spacingAndGlyphs">d1</text>
<text x="499.2" y="368.9" text-anchor="middle" font-size="9.5" fill="#2a2a2a" font-weight="normal" textLength="9.19" lengthAdjust="spacingAndGlyphs">d5</text>
<text x="477.8" y="382.5" text-anchor="middle" font-size="10" fill="#2a2a2a" font-weight="normal" textLength="13.6" lengthAdjust="spacingAndGlyphs" stroke="#2a2a2a" stroke-width="0.14">Day</text>
<text transform="translate(414.3,289) rotate(-90)" text-anchor="middle" font-size="10" fill="#2a2a2a" font-weight="normal" textLength="70.5" lengthAdjust="spacingAndGlyphs" stroke="#2a2a2a" stroke-width="0.14">Clearance (mL/min)</text>
<line x1="455.6" y1="231.25" x2="499.2" y2="313.9" stroke="#850d33" stroke-width="1.3"/>
<line x1="455.6" y1="262.5" x2="499.2" y2="301.5" stroke="#850d33" stroke-width="1.3"/>
<line x1="455.6" y1="292.1" x2="499.2" y2="325.2" stroke="#850d33" stroke-width="1.3"/>
<line x1="455.6" y1="300" x2="499.2" y2="330.6" stroke="#850d33" stroke-width="1.3"/>
<line x1="455.6" y1="303.5" x2="499.2" y2="343" stroke="#850d33" stroke-width="1.3"/>
<line x1="455.6" y1="316.8" x2="499.2" y2="333.5" stroke="#850d33" stroke-width="1.3"/>
<line x1="455.6" y1="320.4" x2="499.2" y2="338.6" stroke="#850d33" stroke-width="1.3"/>
<line x1="455.6" y1="325.5" x2="499.2" y2="330.6" stroke="#850d33" stroke-width="1.3"/>
<line x1="455.6" y1="328.4" x2="499.2" y2="333.5" stroke="#850d33" stroke-width="1.3"/>
<line x1="455.6" y1="337.2" x2="499.2" y2="345.9" stroke="#850d33" stroke-width="1.3"/>
<line x1="455.6" y1="325.5" x2="499.2" y2="345.9" stroke="#850d33" stroke-width="1.3"/>
<circle cx="455.6" cy="231.25" r="1.2" fill="#9a1039" stroke="#730927" stroke-width="0.6"/>
<circle cx="499.2" cy="313.9" r="1.2" fill="#9a1039" stroke="#730927" stroke-width="0.6"/>
<circle cx="455.6" cy="262.5" r="1.2" fill="#9a1039" stroke="#730927" stroke-width="0.6"/>
<circle cx="499.2" cy="301.5" r="1.2" fill="#9a1039" stroke="#730927" stroke-width="0.6"/>
<circle cx="455.6" cy="292.1" r="1.2" fill="#9a1039" stroke="#730927" stroke-width="0.6"/>
<circle cx="499.2" cy="325.2" r="1.2" fill="#9a1039" stroke="#730927" stroke-width="0.6"/>
<circle cx="455.6" cy="300" r="2.2" fill="#9a1039" stroke="#730927" stroke-width="0.6"/>
<circle cx="499.2" cy="330.6" r="2.2" fill="#9a1039" stroke="#730927" stroke-width="0.6"/>
<circle cx="455.6" cy="303.5" r="2.2" fill="#9a1039" stroke="#730927" stroke-width="0.6"/>
<circle cx="499.2" cy="343" r="2.2" fill="#9a1039" stroke="#730927" stroke-width="0.6"/>
<circle cx="455.6" cy="316.8" r="1.2" fill="#9a1039" stroke="#730927" stroke-width="0.6"/>
<circle cx="499.2" cy="333.5" r="2.2" fill="#9a1039" stroke="#730927" stroke-width="0.6"/>
<circle cx="455.6" cy="320.4" r="1.2" fill="#9a1039" stroke="#730927" stroke-width="0.6"/>
<circle cx="499.2" cy="338.6" r="1.2" fill="#9a1039" stroke="#730927" stroke-width="0.6"/>
<circle cx="455.6" cy="325.5" r="2.2" fill="#9a1039" stroke="#730927" stroke-width="0.6"/>
<circle cx="499.2" cy="330.6" r="2.2" fill="#9a1039" stroke="#730927" stroke-width="0.6"/>
<circle cx="455.6" cy="328.4" r="1.2" fill="#9a1039" stroke="#730927" stroke-width="0.6"/>
<circle cx="499.2" cy="333.5" r="2.2" fill="#9a1039" stroke="#730927" stroke-width="0.6"/>
<circle cx="455.6" cy="337.2" r="2.2" fill="#9a1039" stroke="#730927" stroke-width="0.6"/>
<circle cx="499.2" cy="345.9" r="2.2" fill="#9a1039" stroke="#730927" stroke-width="0.6"/>
<circle cx="455.6" cy="325.5" r="2.2" fill="#9a1039" stroke="#730927" stroke-width="0.6"/>
<circle cx="499.2" cy="345.9" r="2.2" fill="#9a1039" stroke="#730927" stroke-width="0.6"/>
<rect x="0" y="0" width="520" height="1.4" fill="#000"/>
<rect x="0" y="0" width="1.4" height="392" fill="#000"/>
<rect x="518.2" y="0" width="1.8" height="392" fill="#000"/>
<rect x="0" y="390.2" width="520" height="1.8" fill="#000"/>
</svg></div></body></html>
